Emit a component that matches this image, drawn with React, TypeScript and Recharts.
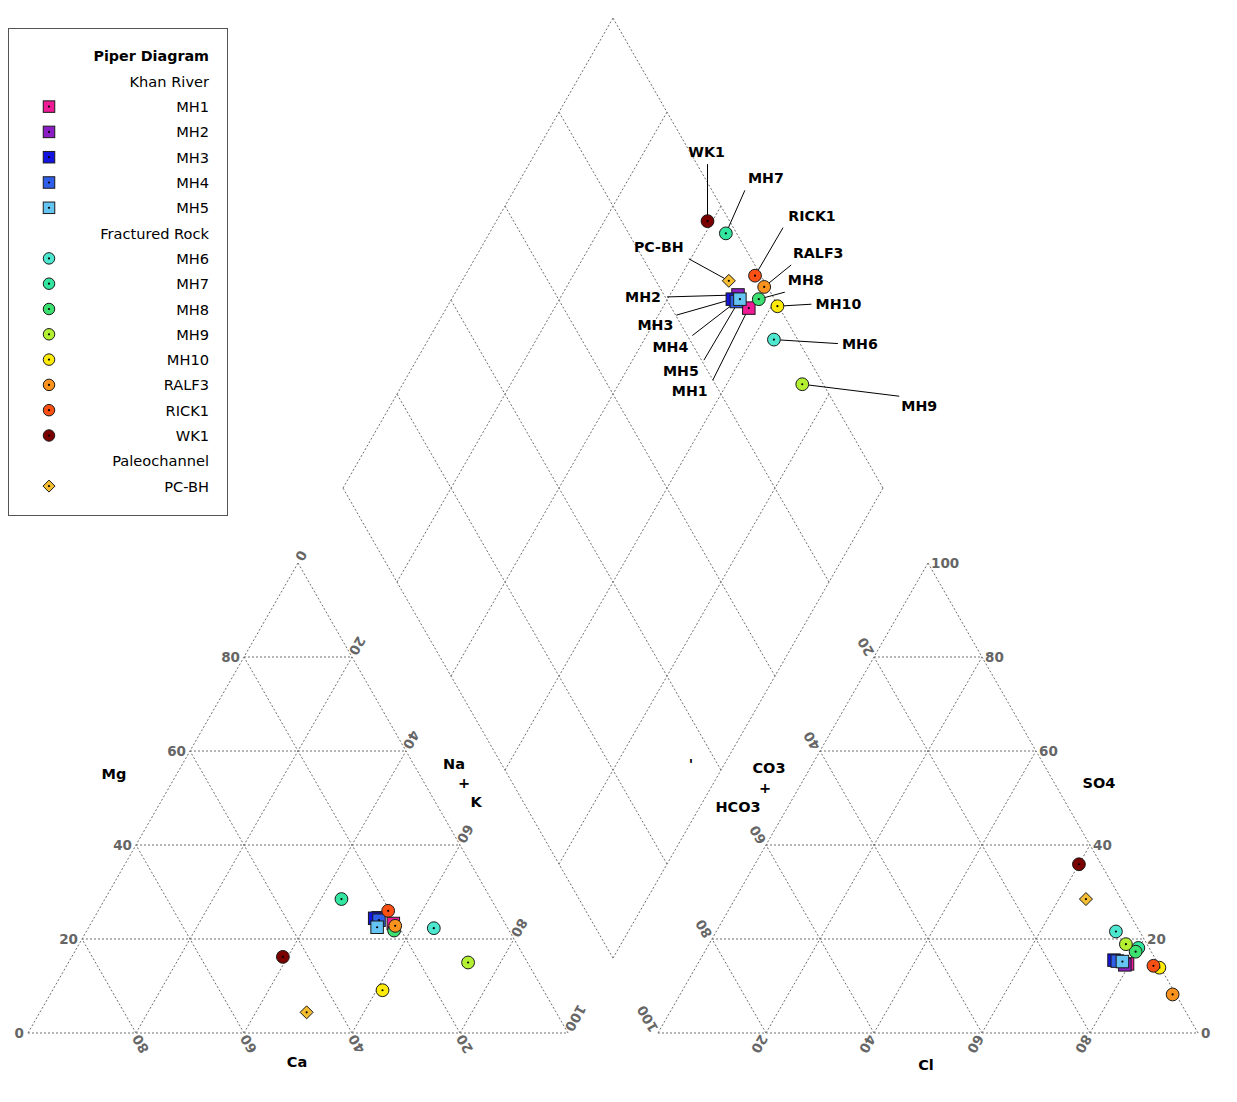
import React from 'react';
import { ScatterChart, Scatter, XAxis, YAxis, ReferenceLine } from 'recharts';

const FONT = "'DejaVu Sans', Verdana, sans-serif";

// ---------------- data ----------------
const sampleNames = ['MH1', 'MH2', 'MH3', 'MH4', 'MH5', 'MH6', 'MH7', 'MH8', 'MH9', 'MH10', 'RALF3', 'RICK1', 'WK1', 'PC-BH'];
const sampleGroups = ['Khan River', 'Khan River', 'Khan River', 'Khan River', 'Khan River',
  'Fractured Rock', 'Fractured Rock', 'Fractured Rock', 'Fractured Rock', 'Fractured Rock', 'Fractured Rock', 'Fractured Rock', 'Fractured Rock',
  'Paleochannel'];
// cations (% meq)
const caPct = [20.7, 22.9, 23.6, 23.0, 24.1, 13.7, 27.7, 21.3, 11.0, 29.8, 20.6, 20.3, 44.7, 46.2];
const mgPct = [23.3, 24.5, 24.4, 24.0, 22.5, 22.3, 28.5, 21.8, 15.0, 9.1, 22.8, 26.0, 16.2, 4.4];
const naKPct = [56.0, 52.6, 52.0, 53.0, 53.4, 64.0, 43.8, 56.9, 74.0, 61.1, 56.6, 53.7, 39.1, 49.4];
// anions (% meq)
const hco3Pct = [5.7, 6.3, 7.8, 7.3, 6.4, 4.4, 2.0, 2.9, 3.9, 0.2, 0.6, 1.1, 4.1, 6.5];
const clPct = [79.6, 79.2, 76.7, 77.4, 78.4, 74.0, 79.9, 79.8, 77.2, 85.9, 91.2, 84.6, 60.0, 65.0];
const so4Pct = [14.7, 14.5, 15.5, 15.3, 15.2, 21.6, 18.1, 17.3, 18.9, 13.9, 8.2, 14.3, 35.9, 28.5];

const gridTicks = [0, 20, 40, 60, 80, 100];
const mgTickLabels = [0, 20, 40, 60, 80];
const naKTickLabels = [0, 20, 40, 60, 80, 100];
const caTickLabels = [80, 60, 40, 20];
const hco3TickLabels = [20, 40, 60, 80, 100];
const clTickLabels = [20, 40, 60, 80];
const so4TickLabels = [0, 20, 40, 60, 80, 100];

// ---------------- styles ----------------
const sampleColors = ['#ee1a96', '#8c1cc4', '#1414e0', '#2f5ee8', '#66c4f2', '#4de6cf', '#33e6a0', '#3ce070', '#b4f032', '#ffeb0a', '#fa921e', '#fa5014', '#7a0000', '#f5be32'];
const sampleShapes = ['square', 'square', 'square', 'square', 'square', 'circle', 'circle', 'circle', 'circle', 'circle', 'circle', 'circle', 'circle', 'diamond'];

// label layout in diamond (pixel offsets from point): label centre and leader-line end
const labelLayout: Record<string, number[]> = {
  'MH1': [-59, 83, -36, 72],
  'MH2': [-95, 2, -71, 2],
  'MH3': [-77, 26, -56, 16],
  'MH4': [-66, 45, -44, 34],
  'MH5': [-59, 72, -36, 61],
  'MH6': [86, 4, 64, 4],
  'MH7': [40, -55, 19, -43],
  'MH8': [47, -19, 26, -7],
  'MH9': [117, 22, 97, 12],
  'MH10': [61, -2, 34, -2],
  'RALF3': [54, -34, 27, -22],
  'RICK1': [57, -60, 28, -48],
  'WK1': [-1, -69, 0, -57],
  'PC-BH': [-70, -34, -40, -22],
};

// ---------------- geometry ----------------
const S = Math.sqrt(3) / 2;
const PX_X = 5.4;
const PX_Y = 470 / (100 * S);
const GAP = 90 / PX_X;
const RX0 = 100 + GAP;
const DIA_X = 100 + GAP / 2;
const DIA_Y = 13.8;
const W = 1229;
const H = 1094;
const X_MIN = -20 / PX_X;
const X_MAX = X_MIN + W / PX_X;
const Y_MAX = 1025 / PX_Y;
const Y_MIN = Y_MAX - H / PX_Y;

const cationXY = (ca: number, mg: number, nak: number) => ({ x: nak + mg / 2, y: mg * S });
const anionXY = (hco3: number, cl: number, so4: number) => ({ x: RX0 + cl + so4 / 2, y: so4 * S });
const diamondXY = (caMg: number, so4Cl: number) => ({ x: DIA_X + (so4Cl - caMg) / 2, y: DIA_Y + (so4Cl + caMg) * S });

// grid segments
const segments: { a: { x: number; y: number }; b: { x: number; y: number } }[] = [];
gridTicks.forEach((t) => {
  segments.push({ a: cationXY(100 - t, t, 0), b: cationXY(0, t, 100 - t) });
  segments.push({ a: cationXY(100 - t, 0, t), b: cationXY(0, 100 - t, t) });
  segments.push({ a: cationXY(t, 0, 100 - t), b: cationXY(t, 100 - t, 0) });
  segments.push({ a: anionXY(100 - t, 0, t), b: anionXY(0, 100 - t, t) });
  segments.push({ a: anionXY(100 - t, t, 0), b: anionXY(0, t, 100 - t) });
  segments.push({ a: anionXY(t, 100 - t, 0), b: anionXY(t, 0, 100 - t) });
  segments.push({ a: diamondXY(t, 0), b: diamondXY(t, 100) });
  segments.push({ a: diamondXY(0, t), b: diamondXY(100, t) });
});

type TickLbl = { x: number; y: number; text: string; mode: string; rot: number; ux: number; uy: number; nx: number; ny: number };
const tickLabels: TickLbl[] = [];
mgTickLabels.forEach((t) => tickLabels.push({ ...cationXY(100 - t, t, 0), text: String(t), mode: 'end', rot: 0, ux: 0, uy: 0, nx: -4, ny: 0 }));
naKTickLabels.forEach((t) => tickLabels.push({ ...cationXY(0, 100 - t, t), text: String(t), mode: 'rot', rot: 120, ux: 0.5, uy: -0.866, nx: -1, ny: 0 }));
caTickLabels.forEach((t) => tickLabels.push({ ...cationXY(t, 0, 100 - t), text: String(t), mode: 'rot', rot: -120, ux: 0.5, uy: 0.866, nx: -2, ny: 0 }));
hco3TickLabels.forEach((t) => tickLabels.push({ ...anionXY(t, 0, 100 - t), text: String(t), mode: 'rot', rot: -120, ux: -0.5, uy: -0.866, nx: -2, ny: 1 }));
clTickLabels.forEach((t) => tickLabels.push({ ...anionXY(100 - t, t, 0), text: String(t), mode: 'rot', rot: 120, ux: -0.5, uy: 0.866, nx: 0, ny: 0 }));
so4TickLabels.forEach((t) => tickLabels.push({ ...anionXY(0, 100 - t, t), text: String(t), mode: 'start', rot: 0, ux: 0, uy: 0, nx: 3, ny: 0 }));

const titles = [
  { ...cationXY(50, 50, 0), text: 'Mg', dx: -49, dy: -24 },
  { ...cationXY(50, 0, 50), text: 'Ca', dx: -1, dy: 29 },
  { ...cationXY(0, 50, 50), text: 'Na', dx: 21, dy: -34 },
  { ...cationXY(0, 50, 50), text: '+', dx: 31, dy: -15 },
  { ...cationXY(0, 50, 50), text: 'K', dx: 43, dy: 4 },
  { ...anionXY(50, 0, 50), text: "'", dx: -102, dy: -34 },
  { ...anionXY(50, 0, 50), text: 'CO3', dx: -24, dy: -30 },
  { ...anionXY(50, 0, 50), text: '+', dx: -28, dy: -10 },
  { ...anionXY(50, 0, 50), text: 'HCO3', dx: -55, dy: 9 },
  { ...anionXY(0, 50, 50), text: 'SO4', dx: 36, dy: -15 },
  { ...anionXY(50, 50, 0), text: 'Cl', dx: -2, dy: 32 },
];

const samplePoints = sampleNames.map((name, i) => [
  { ...cationXY(caPct[i], mgPct[i], naKPct[i]), name },
  { ...anionXY(hco3Pct[i], clPct[i], so4Pct[i]), name },
  { ...diamondXY(caPct[i] + mgPct[i], so4Pct[i] + clPct[i]), name },
]);
const diamondLabelPoints = sampleNames.map((name, i) => ({ ...diamondXY(caPct[i] + mgPct[i], so4Pct[i] + clPct[i]), name }));

// ---------------- rendering helpers ----------------
function MarkerGlyph({ shape, color, cx, cy, size }: { shape: string; color: string; cx: number; cy: number; size: number }) {
  const r = size / 2;
  let body;
  if (shape === 'square') body = <rect x={cx - r} y={cy - r} width={size} height={size} fill={color} stroke="#1a1a1a" strokeWidth={1} />;
  else if (shape === 'circle') body = <circle cx={cx} cy={cy} r={r} fill={color} stroke="#1a1a1a" strokeWidth={1} />;
  else body = <polygon points={`${cx},${cy - r} ${cx + r},${cy} ${cx},${cy + r} ${cx - r},${cy}`} fill={color} stroke="#1a1a1a" strokeWidth={1} />;
  return (
    <g>
      {body}
      <circle cx={cx} cy={cy} r={1.1} fill="#000" />
    </g>
  );
}

const shapeSize = (shape: string) => (shape === 'square' ? 12.5 : shape === 'circle' ? 12.8 : 13);

function TickText(p: any) {
  const d: TickLbl = p.payload;
  const { cx, cy } = p;
  const common = { fill: '#666', fontFamily: FONT, fontWeight: 'bold' as const, fontSize: 13.5 };
  if (d.mode === 'end' || d.mode === 'start') {
    return (
      <text x={cx + d.nx} y={cy} textAnchor={d.mode} dominantBaseline="central" {...common}>
        {d.text}
      </text>
    );
  }
  const len = d.text.length * 8.8;
  const dist = 4 + len / 2;
  const tx = cx + d.ux * dist + d.nx;
  const ty = cy + d.uy * dist + d.ny;
  return (
    <text x={tx} y={ty} textAnchor="middle" dominantBaseline="central" transform={`rotate(${d.rot} ${tx} ${ty})`} {...common}>
      {d.text}
    </text>
  );
}

function TitleText(p: any) {
  const d = p.payload;
  return (
    <text x={p.cx + d.dx} y={p.cy + d.dy} textAnchor="middle" dominantBaseline="central" fontFamily={FONT} fontWeight="bold" fontSize={14.5} fill="#000">
      {d.text}
    </text>
  );
}

function LeaderLabel(p: any) {
  const d = p.payload;
  const l = labelLayout[d.name];
  const { cx, cy } = p;
  return (
    <g>
      <line x1={cx} y1={cy} x2={cx + l[2]} y2={cy + l[3]} stroke="#000" strokeWidth={1} />
      <text x={cx + l[0]} y={cy + l[1]} textAnchor="middle" dominantBaseline="central" fontFamily={FONT} fontWeight="bold" fontSize={14.2} fill="#000">
        {d.name}
      </text>
    </g>
  );
}

function LegendBox() {
  const rows: { text: string; bold?: boolean; idx?: number }[] = [{ text: 'Piper Diagram', bold: true }];
  let lastGroup = '';
  sampleNames.forEach((n, i) => {
    if (sampleGroups[i] !== lastGroup) {
      rows.push({ text: sampleGroups[i] });
      lastGroup = sampleGroups[i];
    }
    rows.push({ text: n, idx: i });
  });
  return (
    <div style={{ position: 'absolute', left: 0, top: 20, width: 218, height: 486, border: '1px solid #555', background: '#fff' }}>
      <svg width={218} height={486}>
        {rows.map((r, k) => {
          const y = 27 + k * 25.3;
          return (
            <g key={k}>
              {r.idx !== undefined && (
                <MarkerGlyph shape={sampleShapes[r.idx]} color={sampleColors[r.idx]} cx={40} cy={y} size={sampleShapes[r.idx] === 'diamond' ? 12 : 11.5} />
              )}
              <text x={200} y={y} textAnchor="end" dominantBaseline="central" fontFamily={FONT} fontSize={r.bold ? 14.3 : 14.6} fontWeight={r.bold ? 'bold' : 'normal'} fill="#000">
                {r.text}
              </text>
            </g>
          );
        })}
      </svg>
    </div>
  );
}

export default function App() {
  return (
    <div style={{ position: 'relative', width: W, height: H, background: '#fff' }}>
      <ScatterChart width={W} height={H} margin={{ top: 0, right: 0, bottom: 0, left: 0 }}>
        <XAxis type="number" dataKey="x" domain={[X_MIN, X_MAX]} allowDataOverflow hide />
        <YAxis type="number" dataKey="y" domain={[Y_MIN, Y_MAX]} allowDataOverflow hide />
        {segments.map((s, i) => (
          <ReferenceLine key={`g${i}`} segment={[{ x: s.a.x, y: s.a.y }, { x: s.b.x, y: s.b.y }]} stroke="#6e6e6e" strokeWidth={1} strokeDasharray="2 2" ifOverflow="visible" />
        ))}
        <Scatter data={tickLabels} shape={TickText} isAnimationActive={false} />
        <Scatter data={titles} shape={TitleText} isAnimationActive={false} />
        <Scatter data={diamondLabelPoints} shape={LeaderLabel} isAnimationActive={false} />
        {samplePoints.map((pts, i) => (
          <Scatter
            key={sampleNames[i]}
            name={sampleNames[i]}
            data={pts}
            isAnimationActive={false}
            shape={(p: any) => <MarkerGlyph shape={sampleShapes[i]} color={sampleColors[i]} cx={p.cx} cy={p.cy} size={shapeSize(sampleShapes[i])} />}
          />
        ))}
      </ScatterChart>
      <LegendBox />
    </div>
  );
}
